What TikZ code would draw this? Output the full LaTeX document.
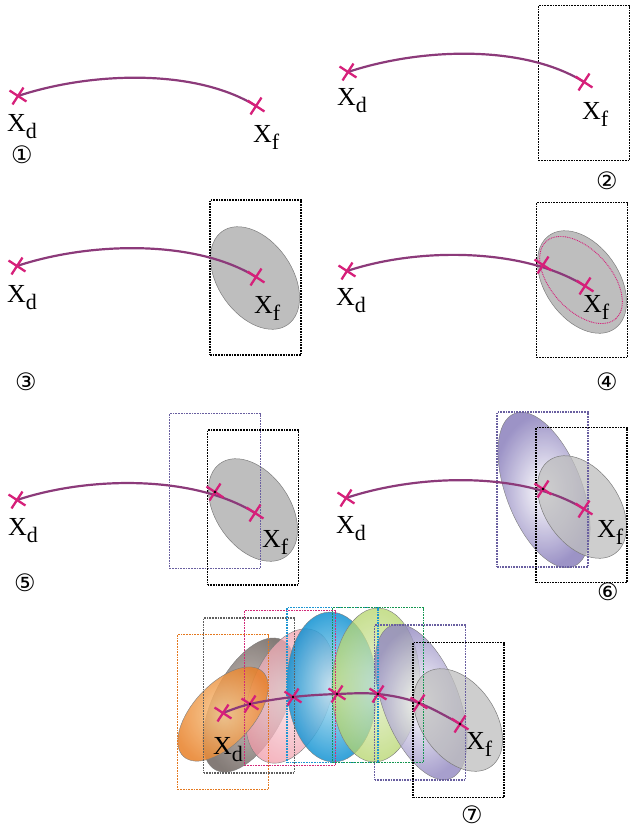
\documentclass[tikz,border=0pt]{standalone}
\usepackage{fontspec}
\setmainfont{Liberation Serif}
\newfontfamily\dejavu{DejaVu Sans}
\usetikzlibrary{shapes.misc}
\definecolor{curvec}{RGB}{140,58,122}
\definecolor{crossc}{RGB}{214,32,122}
\definecolor{ellgray}{RGB}{190,190,190}
\definecolor{ellgrayd}{RGB}{125,125,125}
\definecolor{boxpurple}{RGB}{105,95,160}
\definecolor{boxorange}{RGB}{228,120,30}
\definecolor{boxgrey}{RGB}{95,95,95}
\definecolor{boxmag}{RGB}{210,40,120}
\definecolor{boxcyan}{RGB}{30,150,210}
\definecolor{boxgreen}{RGB}{20,150,80}
\definecolor{purpout}{RGB}{145,135,192}
\definecolor{orout}{RGB}{232,128,40}
\definecolor{orin}{RGB}{248,200,140}
\definecolor{brout}{RGB}{110,100,95}
\definecolor{brin}{RGB}{195,185,180}
\definecolor{pkout}{RGB}{240,155,168}
\definecolor{pkin}{RGB}{248,222,228}
\definecolor{blout}{RGB}{15,145,210}
\definecolor{blin}{RGB}{195,232,245}
\definecolor{grout}{RGB}{180,212,105}
\definecolor{grin}{RGB}{228,240,205}
\newcommand\xlab[1]{{\fontsize{26}{26}\selectfont X}{\fontsize{22}{22}\selectfont\raisebox{-7pt}{#1}}}
\begin{document}
\begin{tikzpicture}[x=1pt,y=-1pt,
  traj/.style={draw=curvec, line width=2.2pt},
  xmark/.style={cross out, draw=crossc, line width=2.3pt, minimum size=12pt, inner sep=0pt, rotate=12},
  dotbox/.style={draw=#1, line width=1.8pt, dash pattern=on 1.7pt off 1.0pt, minimum width=91pt, minimum height=155pt, inner sep=0pt, outer sep=0pt},
  dotbox/.default=black,
  lab/.style={anchor=base west, inner sep=0pt},
  num/.style={font=\dejavu\fontsize{24}{24}\selectfont, inner sep=0pt},
  grayell/.style={fill=ellgray, draw=ellgrayd, line width=0.5pt},
  shell/.style={draw=ellgrayd, line width=0.4pt},
  dotc/.style={circle, fill=black, inner sep=0pt, minimum size=2.8pt}]
\useasboundingbox (0,0) rectangle (630,830);

% ---------- panel 1
\coordinate (d1) at (18,96);
\coordinate (f1) at (256,106);
\draw[traj] (d1) .. controls +(72,-24) and +(-61,-38) .. (f1);
\node[xmark] (md1) at (d1) {};
\node[xmark] (mf1) at (f1) {};
\node[lab] (ld1) at (7,131) {\xlab{d}};
\node[lab] (lf1) at (253,142) {\xlab{f}};
\node[num] (n1) at (22,155) {①};

% ---------- panel 2
\coordinate (d2) at (348,72);
\coordinate (f2) at (584,82);
\node[dotbox] (b2) at (584,83) {};
\draw[traj] (d2) .. controls +(72,-24) and +(-61,-38) .. (f2);
\node[xmark] (md2) at (d2) {};
\node[xmark] (mf2) at (f2) {};
\node[lab] (ld2) at (337,105) {\xlab{d}};
\node[lab] (lf2) at (582,119) {\xlab{f}};
\node[num] (n2) at (607,181) {②};

% ---------- panel 3
\coordinate (d3) at (17,266);
\coordinate (f3) at (256,277);
\coordinate (e3) at (255,278);
\path[grayell, rotate around={-55:(e3)}] (e3) ellipse [x radius=57, y radius=37];
\node[dotbox] (b3) at (255.5,277.5) {};
\draw[traj] (d3) .. controls +(72,-24) and +(-61,-38) .. (f3);
\node[xmark] (md3) at (d3) {};
\node[xmark] (mf3) at (f3) {};
\node[lab] (ld3) at (7,302) {\xlab{d}};
\node[lab] (lf3) at (254,313) {\xlab{f}};
\node[num] (n3) at (26,382) {③};

% ---------- panel 4
\coordinate (d4) at (347,271);
\coordinate (f4) at (585,286);
\coordinate (m4) at (543,265);
\coordinate (e4) at (582,282);
\path[grayell, rotate around={-55:(e4)}] (e4) ellipse [x radius=57, y radius=37];
\draw[crossc, line width=0.9pt, dash pattern=on 0.9pt off 0.9pt, rotate around={-48:(581,280)}] (581,280) ellipse [x radius=52, y radius=30];
\node[dotbox] (b4) at (582,280) {};
\draw[traj] (d4) .. controls +(72,-24) and +(-61,-38) .. (f4);
\node[xmark] (md4) at (d4) {};
\node[xmark] (mm4) at (m4) {};
\node[xmark] (mf4) at (f4) {};
\node[lab] (ld4) at (336,305) {\xlab{d}};
\node[lab] (lf4) at (583,312) {\xlab{f}};
\node[num] (n4) at (607,382) {④};

% ---------- panel 5
\coordinate (d5) at (17,500);
\coordinate (f5) at (255,513);
\coordinate (m5) at (215,492);
\coordinate (e5) at (253,510);
\path[grayell, rotate around={-55:(e5)}] (e5) ellipse [x radius=57, y radius=37];
\node[dotbox=boxpurple] (bp5) at (215,491) {};
\node[dotbox] (b5) at (253,507.5) {};
\draw[traj] (d5) .. controls +(72,-24) and +(-61,-38) .. (f5);
\node[xmark] (md5) at (d5) {};
\node[xmark] (mm5) at (m5) {};
\node[dotc] at (m5) {};
\node[xmark] (mf5) at (f5) {};
\node[lab] (ld5) at (8,535) {\xlab{d}};
\node[lab] (lf5) at (262,547) {\xlab{f}};
\node[num] (n5) at (25,583) {⑤};

% ---------- panel 6
\coordinate (d6) at (346,498);
\coordinate (f6) at (584,509);
\coordinate (m6) at (543,489);
\coordinate (ep6) at (544,490);
\coordinate (e6) at (582,507);
\shade[inner color=white, outer color=purpout, opacity=0.9, rotate around={-69:(ep6)}] (ep6) ellipse [x radius=82, y radius=38];
\path[shell, rotate around={-69:(ep6)}] (ep6) ellipse [x radius=82, y radius=38];
\path[grayell, fill opacity=0.75, rotate around={-55:(e6)}] (e6) ellipse [x radius=57, y radius=37];
\node[dotbox=boxpurple] (bp6) at (542.5,489.5) {};
\node[dotbox] (b6) at (581.5,505) {};
\draw[traj] (d6) .. controls +(72,-24) and +(-61,-38) .. (f6);
\node[xmark] (md6) at (d6) {};
\node[xmark] (mm6) at (m6) {};
\node[dotc] at (m6) {};
\node[xmark] (mf6) at (f6) {};
\node[lab] (ld6) at (336,533) {\xlab{d}};
\node[lab] (lf6) at (597,537) {\xlab{f}};
\node[num] (n6) at (608,592) {⑥};

% ---------- panel 7
\coordinate (g1) at (223,713);
\coordinate (g2) at (250,704);
\coordinate (g3) at (293,697);
\coordinate (g4) at (337,694);
\coordinate (g5) at (378,694);
\coordinate (g6) at (419,703);
\coordinate (g7) at (460,724);
\coordinate (c2) at (249,705);
\coordinate (c3) at (290,696);
\coordinate (c4) at (332,687);
\coordinate (c5) at (376,685);
\coordinate (c6) at (421,702);
\coordinate (c7) at (458,720);
\coordinate (c1) at (223,714);
% ellipses
\shade[inner color=brin, outer color=brout, opacity=0.85, rotate around={63:(c2)}] (c2) ellipse [x radius=73, y radius=36];
\path[shell, rotate around={63:(c2)}] (c2) ellipse [x radius=73, y radius=36];
\shade[inner color=pkin, outer color=pkout, opacity=0.75, rotate around={70:(c3)}] (c3) ellipse [x radius=70, y radius=40];
\path[shell, rotate around={70:(c3)}] (c3) ellipse [x radius=70, y radius=40];
\shade[inner color=blin, outer color=blout, opacity=0.85, rotate around={92:(c4)}] (c4) ellipse [x radius=75, y radius=45];
\path[shell, rotate around={92:(c4)}] (c4) ellipse [x radius=75, y radius=45];
\shade[inner color=grin, outer color=grout, opacity=0.75, rotate around={88:(c5)}] (c5) ellipse [x radius=77, y radius=44];
\path[shell, rotate around={88:(c5)}] (c5) ellipse [x radius=77, y radius=44];
\shade[inner color=white, outer color=purpout, opacity=0.8, rotate around={-69:(c6)}] (c6) ellipse [x radius=82, y radius=38];
\path[shell, rotate around={-69:(c6)}] (c6) ellipse [x radius=82, y radius=38];
\path[grayell, fill opacity=0.75, rotate around={-55:(c7)}] (c7) ellipse [x radius=57, y radius=37];
\shade[inner color=orin, outer color=orout, opacity=0.85, rotate around={47:(c1)}] (c1) ellipse [x radius=58, y radius=30];
\path[shell, rotate around={47:(c1)}] (c1) ellipse [x radius=58, y radius=30];
% boxes
\node[dotbox=boxorange] (k1) at (223,712) {};
\node[dotbox=boxgrey] (k2) at (249,695.5) {};
\node[dotbox=boxmag] (k3) at (290,688) {};
\node[dotbox=boxcyan] (k4) at (332.5,685) {};
\node[dotbox=boxgreen] (k5) at (378,685) {};
\node[dotbox=boxpurple] (k6) at (420,702.5) {};
\node[dotbox] (k7) at (458.5,720) {};
% trajectory
\draw[traj] plot[smooth, tension=0.6] coordinates {(g1) (g2) (g3) (g4) (g5) (g6) (g7)};
\foreach \i in {1,...,7} {\node[xmark] (x7\i) at (g\i) {};}
\foreach \i in {2,...,7} {\node[dotc] at (g\i) {};}
\node[lab] (ld7) at (213,754) {\xlab{d}};
\node[lab] (lf7) at (466,749) {\xlab{f}};
\node[num] (n7) at (472,815) {⑦};
\end{tikzpicture}
\end{document}
